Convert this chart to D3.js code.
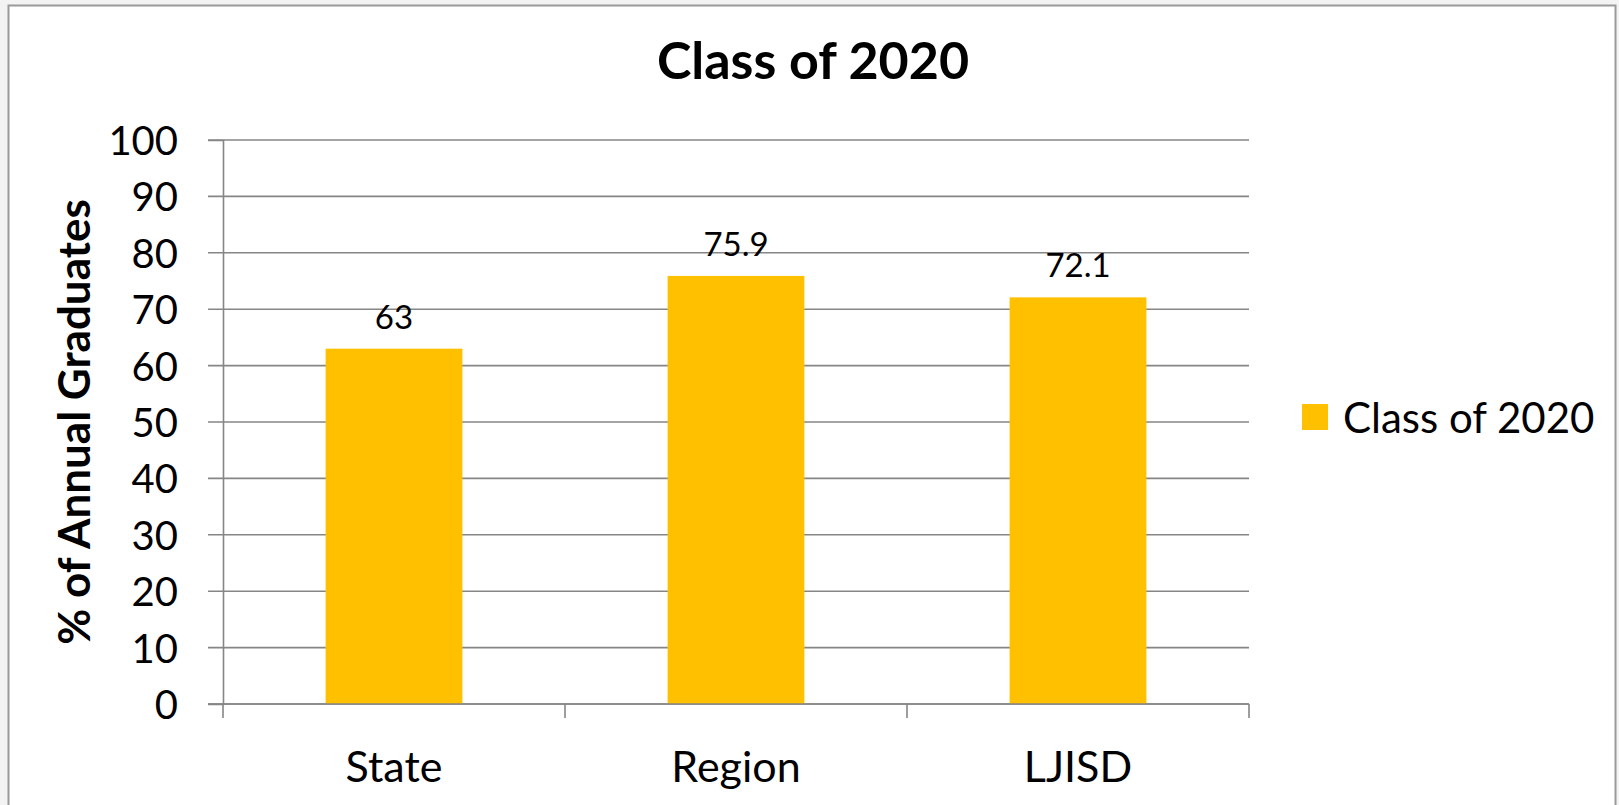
<!DOCTYPE html>
<html lang="en">

<head>
  <meta charset="utf-8">
  <title>Class of 2020</title>
  <!-- D3 -->
  <script src="https://cdn.jsdelivr.net/npm/d3@7"></script>
  <style>
    body { margin: 0; background: #f3f3f3; }
    svg { display: block; }
    .chart-text { font-family: Lato, "Open Sans", sans-serif; fill: #000; }
  </style>
</head>

<body>

  <svg id="chart"></svg>

  <script>
    // chart data
    var categories = ["State", "Region", "LJISD"];
    var values = [63, 75.9, 72.1];
    var yTicks = [0, 10, 20, 30, 40, 50, 60, 70, 80, 90, 100];
    var seriesName = "Class of 2020";
    var chartTitle = "Class of 2020";
    var yTitle = "% of Annual Graduates";

    var W = 1619, H = 805;
    var plot = { left: 223, right: 1249, top: 140, bottom: 704 };
    var gridColor = "#868686";
    var barColor = "#FFC000";

    var svg = d3.select("#chart")
      .attr("width", W)
      .attr("height", H);

    // chart area with border
    svg.append("rect")
      .attr("x", 8.5).attr("y", 5.5)
      .attr("width", 1607).attr("height", H + 20)
      .attr("fill", "#fff")
      .attr("stroke", "#9a9a9a")
      .attr("stroke-width", 2);

    var x = d3.scaleBand()
      .domain(categories)
      .range([plot.left, plot.right])
      .padding(0);

    var y = d3.scaleLinear()
      .domain([0, 100])
      .range([plot.bottom, plot.top]);

    // gridlines
    svg.append("g")
      .selectAll("line")
      .data(yTicks)
      .join("line")
      .attr("x1", plot.left - 15)
      .attr("x2", plot.right)
      .attr("y1", function (d) { return y(d); })
      .attr("y2", function (d) { return y(d); })
      .attr("stroke", gridColor)
      .attr("stroke-width", 1.6);

    // y axis
    var yAxis = svg.append("g")
      .attr("transform", "translate(" + plot.left + ",0)")
      .call(d3.axisLeft(y).tickValues(yTicks).tickSize(15).tickPadding(30));
    yAxis.select(".domain").attr("stroke", gridColor).attr("stroke-width", 1.6);
    yAxis.selectAll(".tick line").attr("stroke", "none");
    yAxis.selectAll(".tick text")
      .attr("class", "chart-text")
      .attr("dy", "0.36em")
      .style("font-size", "40px");

    // bars
    svg.append("g")
      .selectAll("rect")
      .data(values)
      .join("rect")
      .attr("x", function (d, i) { return x(categories[i]) + x.bandwidth() * 0.3; })
      .attr("width", x.bandwidth() * 0.4)
      .attr("y", function (d) { return y(d); })
      .attr("height", function (d) { return y(0) - y(d); })
      .attr("fill", barColor);

    // x axis line + category ticks at band edges
    svg.append("line")
      .attr("x1", plot.left - 15).attr("x2", plot.right)
      .attr("y1", y(0)).attr("y2", y(0))
      .attr("stroke", gridColor).attr("stroke-width", 1.6);

    var edges = categories.map(function (c) { return x(c); }).concat([x.range()[1]]);
    svg.append("g")
      .selectAll("line")
      .data(edges)
      .join("line")
      .attr("x1", function (d) { return d; })
      .attr("x2", function (d) { return d; })
      .attr("y1", y(0))
      .attr("y2", y(0) + 14)
      .attr("stroke", gridColor)
      .attr("stroke-width", 1.6);

    svg.append("g")
      .selectAll("text")
      .data(categories)
      .join("text")
      .attr("class", "chart-text")
      .attr("x", function (d) { return x(d) + x.bandwidth() / 2; })
      .attr("y", 782)
      .attr("text-anchor", "middle")
      .style("font-size", "43px")
      .text(function (d) { return d; });

    // value labels
    svg.append("g")
      .selectAll("text")
      .data(values)
      .join("text")
      .attr("class", "chart-text")
      .attr("x", function (d, i) { return x(categories[i]) + x.bandwidth() / 2; })
      .attr("y", function (d) { return y(d) - 20; })
      .attr("text-anchor", "middle")
      .style("font-size", "33px")
      .text(function (d) { return d; });

    // title
    svg.append("text")
      .attr("class", "chart-text")
      .attr("x", 813)
      .attr("y", 79)
      .attr("text-anchor", "middle")
      .style("font-size", "52px")
      .style("font-weight", "bold")
      .text(chartTitle);

    // y axis title
    svg.append("text")
      .attr("class", "chart-text")
      .attr("transform", "translate(90,422) rotate(-90)")
      .attr("text-anchor", "middle")
      .style("font-size", "44px")
      .style("font-weight", "bold")
      .text(yTitle);

    // legend
    var legend = svg.append("g").attr("transform", "translate(1302,404)");
    legend.append("rect")
      .attr("width", 26).attr("height", 26)
      .attr("fill", barColor);
    legend.append("text")
      .attr("class", "chart-text")
      .attr("x", 41)
      .attr("y", 29)
      .style("font-size", "42px")
      .text(seriesName);
  </script>

</body>

</html>
